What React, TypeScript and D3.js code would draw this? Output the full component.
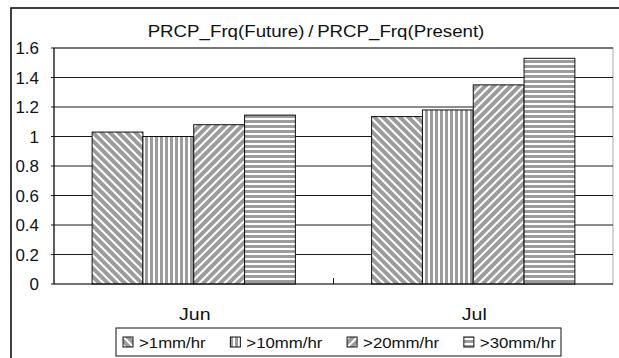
import React from "react";
import * as d3 from "d3";

const categories = ["Jun", "Jul"];
const seriesNames = [">1mm/hr", ">10mm/hr", ">20mm/hr", ">30mm/hr"];
const junValues = [1.03, 1.0, 1.08, 1.145];
const julValues = [1.135, 1.18, 1.35, 1.53];
const yTicks = [0, 0.2, 0.4, 0.6, 0.8, 1, 1.2, 1.4, 1.6];
const titleText = "PRCP_Frq(Future)\u2009/\u2009PRCP_Frq(Present)";

const W = 619;
const H = 358;
const plot = { left: 54, right: 613, top: 48, bottom: 284 };
const FONT = "'Liberation Sans', Arial, sans-serif";
const GRAY = "#9c9c9c";
const patternIds = ["pDiagDown", "pVert", "pDiagUp", "pHoriz"];

export default function App() {
  const values = [junValues, julValues];

  const x0 = d3
    .scaleBand<string>()
    .domain(categories)
    .range([plot.left, plot.right])
    .paddingInner(0)
    .paddingOuter(0);
  // Excel-style gap width of 150%: bars occupy 4 / 5.5 of each category
  const groupWidth = (x0.bandwidth() * 4) / 5.5;
  const x1 = d3
    .scaleBand<string>()
    .domain(seriesNames)
    .range([0, groupWidth])
    .padding(0);
  const y = d3.scaleLinear().domain([0, 1.6]).range([plot.bottom, plot.top]);

  const legendLeft = 116;
  const legendRight = 561;
  const legendTop = 328;
  const legendBottom = 356;
  const legendMid = (legendTop + legendBottom) / 2;
  const legendFont = 15;
  const legendTextScale = 1.12;
  // approximate natural widths of the legend labels at 15px
  const legendTextW = [59.6, 68, 68, 68];
  const swatch = 10;
  const swGap = 6;
  const startX = 123;
  const endX = 556;
  const used =
    legendTextW.reduce((a, b) => a + b * legendTextScale, 0) + 4 * (swatch + swGap);
  const itemGap = (endX - startX - used) / 3;
  let cursor = startX;
  const legendItems = seriesNames.map((name, i) => {
    const sx = cursor;
    cursor += swatch + swGap + legendTextW[i] * legendTextScale + itemGap;
    return { name, sx, pid: patternIds[i] };
  });

  return (
    <svg width={W} height={H} style={{ position: "absolute", left: 0, top: 0 }}>
      <defs>
        <pattern id="pDiagDown" width="6" height="6" patternUnits="userSpaceOnUse" patternTransform="rotate(-45)">
          <rect width="6" height="6" fill="#ffffff" />
          <rect width="4" height="6" fill={GRAY} />
        </pattern>
        <pattern id="pDiagUp" width="6" height="6" patternUnits="userSpaceOnUse" patternTransform="rotate(45)">
          <rect width="6" height="6" fill="#ffffff" />
          <rect width="4" height="6" fill={GRAY} />
        </pattern>
        <pattern id="pVert" width="5" height="5" patternUnits="userSpaceOnUse">
          <rect width="5" height="5" fill="#ffffff" />
          <rect width="3" height="5" fill={GRAY} />
        </pattern>
        <pattern id="pHoriz" width="5" height="5" patternUnits="userSpaceOnUse">
          <rect width="5" height="5" fill="#ffffff" />
          <rect width="5" height="3" fill={GRAY} />
        </pattern>
      </defs>

      <rect x={0} y={0} width={W} height={H} fill="#ffffff" />
      {/* chart frame */}
      <rect x={11} y={8} width={W} height={H} fill="none" stroke="#111" strokeWidth={1.6} />

      {/* title */}
      <text
        transform={`translate(316,37) scale(1.1,1)`}
        textAnchor="middle"
        fontFamily={FONT}
        fontSize={17}
        fill="#111"
      >
        {titleText}
      </text>

      {/* plot area border */}
      <rect
        x={plot.left}
        y={plot.top}
        width={plot.right - plot.left}
        height={plot.bottom - plot.top}
        fill="none"
        stroke="#a8a8a8"
        strokeWidth={1}
      />

      {/* gridlines and y ticks */}
      {yTicks.map((t) => (
        <g key={t}>
          {t > 0 && (
            <line x1={plot.left - 3} x2={plot.right} y1={y(t)} y2={y(t)} stroke="#1a1a1a" strokeWidth={1} />
          )}
          <text
            transform={`translate(39,${y(t) + 6}) scale(1.06,1)`}
            textAnchor="end"
            fontFamily={FONT}
            fontSize={16}
            fill="#111"
          >
            {d3.format("~g")(t)}
          </text>
        </g>
      ))}

      {/* bars */}
      {categories.map((c, ci) => {
        const gx = (x0(c) ?? 0) + (x0.bandwidth() - groupWidth) / 2;
        return (
          <g key={c}>
            {seriesNames.map((s, si) => {
              const v = values[ci][si];
              return (
                <rect
                  key={s}
                  x={gx + (x1(s) ?? 0)}
                  y={y(v)}
                  width={x1.bandwidth()}
                  height={y(0) - y(v)}
                  fill={`url(#${patternIds[si]})`}
                  stroke="#111"
                  strokeWidth={1}
                />
              );
            })}
          </g>
        );
      })}

      {/* axes */}
      <line x1={plot.left} x2={plot.left} y1={plot.top} y2={plot.bottom} stroke="#111" strokeWidth={1.2} />
      <line x1={plot.left - 3} x2={plot.right} y1={plot.bottom} y2={plot.bottom} stroke="#111" strokeWidth={1.2} />
      {categories.slice(1).map((c) => (
        <line
          key={c}
          x1={x0(c)}
          x2={x0(c)}
          y1={plot.bottom}
          y2={plot.bottom - 6}
          stroke="#111"
          strokeWidth={1}
        />
      ))}

      {/* category labels */}
      {categories.map((c) => (
        <text
          key={c}
          transform={`translate(${(x0(c) ?? 0) + x0.bandwidth() / 2 + 1},320) scale(1.15,1)`}
          textAnchor="middle"
          fontFamily={FONT}
          fontSize={17}
          fill="#111"
        >
          {c}
        </text>
      ))}

      {/* legend */}
      <rect
        x={legendLeft}
        y={legendTop}
        width={legendRight - legendLeft}
        height={legendBottom - legendTop}
        fill="#ffffff"
        stroke="#111"
        strokeWidth={1}
      />
      {legendItems.map((it) => (
        <g key={it.name}>
          <rect
            x={it.sx}
            y={legendMid - swatch / 2}
            width={swatch}
            height={swatch}
            fill={`url(#${it.pid})`}
            stroke="#111"
            strokeWidth={1}
          />
          <text
            transform={`translate(${it.sx + swatch + swGap},${legendMid + 5.5}) scale(${legendTextScale},1)`}
            fontFamily={FONT}
            fontSize={legendFont}
            fill="#111"
          >
            {it.name}
          </text>
        </g>
      ))}
    </svg>
  );
}
